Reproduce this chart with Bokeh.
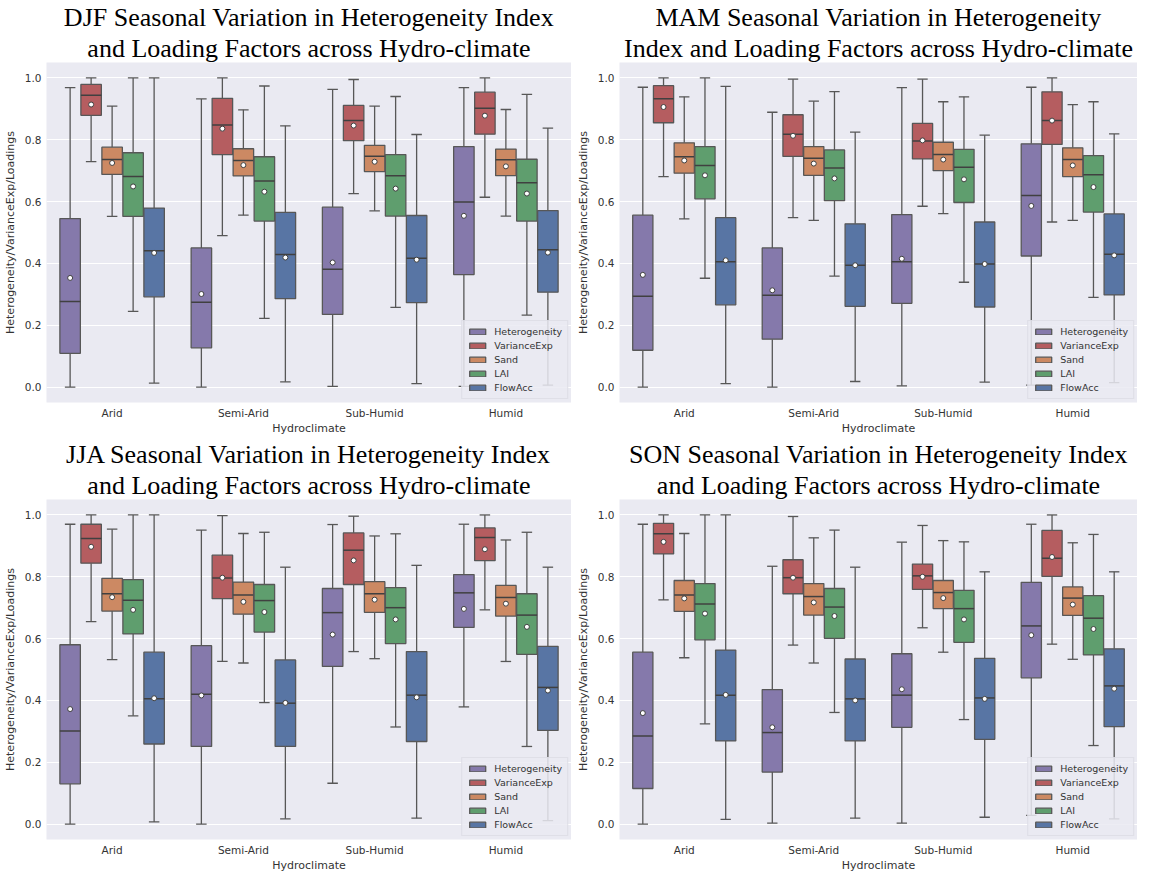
from bokeh.plotting import figure
from bokeh.models import (ColumnDataSource, FactorRange, Range1d, FixedTicker,
                          PrintfTickFormatter, Title, Legend, LegendItem)
from bokeh.transform import dodge
from bokeh.layouts import row, column
from bokeh.embed import file_html
from bokeh.resources import INLINE

HYDRO = ["Arid", "Semi-Arid", "Sub-Humid", "Humid"]
VARIABLES = ["Heterogeneity", "VarianceExp", "Sand", "LAI", "FlowAcc"]

# rows: Heterogeneity, VarianceExp, Sand, LAI, FlowAcc ; columns: HYDRO order
DJF_WHI = [[0.969, 0.932, 0.963, 0.969], [1.0, 1.0, 0.995, 1.0], [0.909, 0.897, 0.909, 0.898], [1.0, 0.974, 0.940, 0.947], [1.0, 0.845, 0.817, 0.838]]
DJF_Q3 = [[0.545, 0.450, 0.582, 0.778], [0.979, 0.934, 0.911, 0.954], [0.776, 0.771, 0.782, 0.770], [0.758, 0.745, 0.752, 0.737], [0.579, 0.565, 0.555, 0.571]]
DJF_MED = [[0.277, 0.274, 0.381, 0.599], [0.944, 0.848, 0.862, 0.902], [0.736, 0.733, 0.747, 0.735], [0.681, 0.667, 0.684, 0.661], [0.441, 0.429, 0.417, 0.444]]
DJF_Q1 = [[0.109, 0.127, 0.235, 0.364], [0.879, 0.752, 0.797, 0.818], [0.688, 0.683, 0.697, 0.684], [0.552, 0.537, 0.553, 0.537], [0.292, 0.286, 0.273, 0.307]]
DJF_WLO = [[0.0, 0.0, 0.002, 0.002], [0.729, 0.490, 0.626, 0.614], [0.552, 0.556, 0.570, 0.553], [0.245, 0.222, 0.258, 0.233], [0.013, 0.017, 0.011, 0.006]]
DJF_MEAN = [[0.353, 0.301, 0.403, 0.554], [0.914, 0.836, 0.846, 0.878], [0.725, 0.718, 0.729, 0.714], [0.649, 0.632, 0.642, 0.626], [0.434, 0.419, 0.412, 0.435]]

MAM_WHI = [[0.970, 0.889, 0.969, 0.970], [1.0, 0.996, 0.996, 1.0], [0.939, 0.925, 0.923, 0.914], [1.0, 0.956, 0.939, 0.923], [0.973, 0.825, 0.815, 0.819]]
MAM_Q3 = [[0.556, 0.450, 0.558, 0.787], [0.975, 0.881, 0.853, 0.955], [0.790, 0.778, 0.792, 0.774], [0.778, 0.767, 0.769, 0.749], [0.548, 0.528, 0.534, 0.560]]
MAM_MED = [[0.294, 0.297, 0.405, 0.620], [0.933, 0.818, 0.796, 0.862], [0.745, 0.740, 0.752, 0.736], [0.717, 0.709, 0.711, 0.687], [0.405, 0.394, 0.398, 0.430]]
MAM_Q1 = [[0.119, 0.155, 0.271, 0.424], [0.855, 0.746, 0.738, 0.785], [0.692, 0.685, 0.700, 0.681], [0.609, 0.603, 0.597, 0.566], [0.266, 0.261, 0.259, 0.298]]
MAM_WLO = [[0.0, 0.0, 0.004, 0.006], [0.681, 0.548, 0.585, 0.534], [0.544, 0.539, 0.561, 0.539], [0.352, 0.359, 0.339, 0.290], [0.011, 0.018, 0.016, 0.014]]
MAM_MEAN = [[0.363, 0.313, 0.415, 0.586], [0.906, 0.813, 0.798, 0.862], [0.733, 0.723, 0.736, 0.717], [0.685, 0.675, 0.672, 0.647], [0.410, 0.394, 0.398, 0.426]]

JJA_WHI = [[0.970, 0.951, 0.969, 0.970], [1.0, 0.998, 0.996, 1.0], [0.954, 0.940, 0.932, 0.919], [1.0, 0.944, 0.939, 0.944], [1.0, 0.831, 0.837, 0.831]]
JJA_Q3 = [[0.580, 0.577, 0.762, 0.807], [0.970, 0.870, 0.942, 0.958], [0.795, 0.783, 0.784, 0.772], [0.791, 0.775, 0.765, 0.745], [0.556, 0.531, 0.558, 0.575]]
JJA_MED = [[0.301, 0.420, 0.684, 0.748], [0.924, 0.796, 0.886, 0.927], [0.745, 0.741, 0.745, 0.733], [0.724, 0.723, 0.700, 0.676], [0.405, 0.391, 0.417, 0.442]]
JJA_Q1 = [[0.130, 0.251, 0.510, 0.636], [0.844, 0.729, 0.775, 0.852], [0.689, 0.679, 0.685, 0.673], [0.615, 0.621, 0.584, 0.549], [0.259, 0.251, 0.267, 0.303]]
JJA_WLO = [[0.0, 0.0, 0.132, 0.379], [0.655, 0.526, 0.558, 0.693], [0.532, 0.521, 0.535, 0.526], [0.350, 0.393, 0.314, 0.251], [0.007, 0.017, 0.019, 0.011]]
JJA_MEAN = [[0.372, 0.416, 0.613, 0.696], [0.897, 0.797, 0.853, 0.889], [0.734, 0.719, 0.726, 0.713], [0.693, 0.686, 0.662, 0.638], [0.407, 0.392, 0.410, 0.432]]

SON_WHI = [[0.970, 0.834, 0.912, 0.970], [1.0, 0.995, 0.966, 1.0], [0.940, 0.926, 0.917, 0.910], [1.0, 0.951, 0.913, 0.937], [1.0, 0.831, 0.816, 0.816]]
SON_Q3 = [[0.556, 0.435, 0.551, 0.782], [0.973, 0.855, 0.841, 0.950], [0.788, 0.778, 0.788, 0.767], [0.778, 0.762, 0.756, 0.739], [0.563, 0.534, 0.536, 0.567]]
SON_MED = [[0.285, 0.296, 0.417, 0.641], [0.939, 0.797, 0.803, 0.860], [0.741, 0.736, 0.749, 0.731], [0.712, 0.702, 0.697, 0.666], [0.417, 0.405, 0.408, 0.447]]
SON_Q1 = [[0.115, 0.168, 0.313, 0.473], [0.874, 0.745, 0.759, 0.801], [0.688, 0.676, 0.697, 0.675], [0.596, 0.601, 0.588, 0.547], [0.269, 0.269, 0.274, 0.315]]
SON_WLO = [[0.0, 0.003, 0.003, 0.028], [0.725, 0.579, 0.635, 0.582], [0.538, 0.521, 0.556, 0.533], [0.324, 0.361, 0.338, 0.254], [0.015, 0.019, 0.022, 0.017]]
SON_MEAN = [[0.359, 0.313, 0.436, 0.611], [0.913, 0.797, 0.800, 0.864], [0.730, 0.717, 0.731, 0.710], [0.681, 0.673, 0.662, 0.631], [0.418, 0.400, 0.405, 0.438]]

TITLES = {
    "DJF": ("DJF Seasonal Variation in Heterogeneity Index", "and Loading Factors across Hydro-climate"),
    "MAM": ("MAM Seasonal Variation in Heterogeneity", "Index and Loading Factors across Hydro-climate"),
    "JJA": ("JJA Seasonal Variation in Heterogeneity Index", "and Loading Factors across Hydro-climate"),
    "SON": ("SON Seasonal Variation in Heterogeneity Index", "and Loading Factors across Hydro-climate"),
}

COLORS = ["#8579ab", "#b55d60", "#cc8963", "#5f9e6e", "#5875a4"]
EDGE = "#575757"
OFFSETS = [-0.32, -0.16, 0.0, 0.16, 0.32]
BOXW = 0.156
CAPW = 0.04
TXT = "#333333"


def make_panel(key, whi, q3, med, q1, wlo, mean, width, left_border, top_pad):
    p = figure(x_range=FactorRange(*HYDRO, range_padding=0), y_range=Range1d(-0.05, 1.05),
               frame_width=width, frame_height=340, output_backend="svg", toolbar_location=None,
               min_border_left=left_border, min_border_right=0, min_border_top=0,
               min_border_bottom=0)
    p.background_fill_color = "#eaeaf2"
    p.border_fill_color = "white"
    p.outline_line_color = None
    p.xgrid.visible = False
    p.ygrid.grid_line_color = "white"
    p.ygrid.grid_line_width = 1.2
    p.yaxis.ticker = FixedTicker(ticks=[0.0, 0.2, 0.4, 0.6, 0.8, 1.0])
    p.yaxis.formatter = PrintfTickFormatter(format="%.1f")
    for ax in (p.xaxis[0], p.yaxis[0]):
        ax.axis_line_color = None
        ax.major_tick_line_color = None
        ax.minor_tick_line_color = None
        ax.major_tick_out = 0
        ax.major_tick_in = 0
        ax.minor_tick_out = 0
        ax.minor_tick_in = 0
        ax.major_label_text_font = "DejaVu Sans"
        ax.major_label_text_font_size = "10.5px"
        ax.major_label_text_color = TXT
        ax.axis_label_text_font = "DejaVu Sans"
        ax.axis_label_text_font_size = "11px"
        ax.axis_label_text_font_style = "normal"
        ax.axis_label_text_color = TXT
        ax.major_label_standoff = 5
        ax.axis_label_standoff = 5
    p.xaxis.major_label_standoff = 4
    p.xaxis.axis_label_standoff = 0
    p.xaxis.axis_label = "Hydroclimate"
    p.yaxis.axis_label = "Heterogeneity/VarianceExp/Loadings"

    items = []
    for j, name in enumerate(VARIABLES):
        src = ColumnDataSource(dict(cat=HYDRO, whi=whi[j], q3=q3[j], med=med[j], q1=q1[j],
                                    wlo=wlo[j], mean=mean[j]))
        off = OFFSETS[j]
        xc = dodge("cat", off, range=p.x_range)
        xl = dodge("cat", off - CAPW, range=p.x_range)
        xr = dodge("cat", off + CAPW, range=p.x_range)
        bl = dodge("cat", off - BOXW / 2, range=p.x_range)
        br = dodge("cat", off + BOXW / 2, range=p.x_range)
        p.segment(x0=xc, y0="q3", x1=xc, y1="whi", line_color=EDGE, line_width=1.3, source=src)
        p.segment(x0=xc, y0="wlo", x1=xc, y1="q1", line_color=EDGE, line_width=1.3, source=src)
        p.segment(x0=xl, y0="whi", x1=xr, y1="whi", line_color=EDGE, line_width=1.3, source=src)
        p.segment(x0=xl, y0="wlo", x1=xr, y1="wlo", line_color=EDGE, line_width=1.3, source=src)
        r = p.vbar(x=xc, width=BOXW, bottom="q1", top="q3", fill_color=COLORS[j],
                   line_color=EDGE, line_width=1.3, source=src)
        p.segment(x0=bl, y0="med", x1=br, y1="med", line_color="#404040", line_width=1.5,
                  source=src)
        p.scatter(x=xc, y="mean", size=5, fill_color="white", line_color="#404040",
                  line_width=1, source=src)
        items.append(LegendItem(label=name, renderers=[r]))

    legend = Legend(items=items, location="bottom_right")
    legend.label_text_font = "DejaVu Sans"
    legend.label_text_font_size = "9.5px"
    legend.label_text_color = TXT
    legend.background_fill_color = "#eaeaf2"
    legend.background_fill_alpha = 0.85
    legend.border_line_color = "#d4d4dc"
    legend.glyph_width = 20
    legend.glyph_height = 7
    legend.label_height = 10
    legend.spacing = 3
    legend.padding = 5
    legend.margin = 3
    legend.label_standoff = 7
    p.add_layout(legend)

    l1, l2 = TITLES[key]
    t2 = Title(text=l2, align="center", text_font="Liberation Serif", text_font_size="26px",
               text_font_style="normal", text_color="black", standoff=0, offset=0)
    p.add_layout(t2, "above")
    t1 = Title(text=l1, align="center", text_font="Liberation Serif", text_font_size="26px",
               text_font_style="normal", text_color="black", standoff=top_pad, offset=0)
    p.add_layout(t1, "above")
    return p


p1 = make_panel("DJF", DJF_WHI, DJF_Q3, DJF_MED, DJF_Q1, DJF_WLO, DJF_MEAN, 525, 42, 0)
p2 = make_panel("MAM", MAM_WHI, MAM_Q3, MAM_MED, MAM_Q1, MAM_WLO, MAM_MEAN, 518, 48, 0)
p3 = make_panel("JJA", JJA_WHI, JJA_Q3, JJA_MED, JJA_Q1, JJA_WLO, JJA_MEAN, 525, 42, 0)
p4 = make_panel("SON", SON_WHI, SON_Q3, SON_MED, SON_Q1, SON_WLO, SON_MEAN, 518, 48, 0)

layout = column(row(p1, p2), row(p3, p4))
open("out.html", "w").write(file_html(layout, INLINE))
